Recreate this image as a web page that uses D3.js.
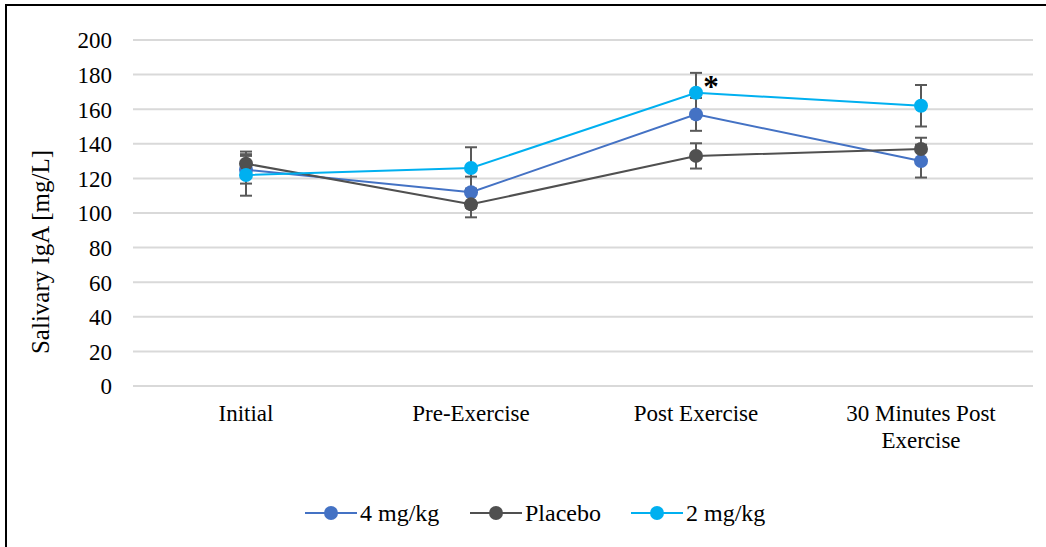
<!DOCTYPE html>
<html>
<head>
<meta charset="utf-8">
<script src="https://cdn.jsdelivr.net/npm/d3@7/dist/d3.min.js"></script>
<style>
  html, body { margin: 0; padding: 0; background: #fff; }
  svg { display: block; }
  svg text { font-family: "Liberation Serif", "Times New Roman", serif !important; fill: #000; }
</style>
</head>
<body>
<svg id="chart" width="1046" height="547"></svg>
<script>
// Sampling time points
const categories = ["Initial", "Pre-Exercise", "Post Exercise", "30 Minutes Post Exercise"];
const categoryLines = [["Initial"], ["Pre-Exercise"], ["Post Exercise"], ["30 Minutes Post", "Exercise"]];

// Mean salivary IgA (mg/L) and error-bar half widths for each group
const fourMg = [125, 112, 157, 130];
const fourMgErr = [8, 9, 9.5, 9.5];
const placebo = [128.5, 105, 133, 137];
const placeboErr = [7, 7.5, 7.3, 6.5];
const twoMg = [122, 126, 169.5, 162];
const twoMgErr = [12, 12, 11.5, 12];

const yTicks = [0, 20, 40, 60, 80, 100, 120, 140, 160, 180, 200];

const seriesNames = ["4 mg/kg", "Placebo", "2 mg/kg"];
const seriesColors = ["#4472C4", "#505050", "#00B0F0"];

const series = [
  { name: seriesNames[0], color: seriesColors[0], values: fourMg, err: fourMgErr },
  { name: seriesNames[1], color: seriesColors[1], values: placebo, err: placeboErr },
  { name: seriesNames[2], color: seriesColors[2], values: twoMg, err: twoMgErr }
];

const serif = "'Liberation Serif', 'Times New Roman', serif";
const svg = d3.select("#chart");

// Outer frame
svg.append("rect")
  .attr("x", 6).attr("y", 5)
  .attr("width", 1060).attr("height", 560)
  .attr("fill", "none").attr("stroke", "#000").attr("stroke-width", 2);

const x = d3.scaleBand().domain(categories).range([133.5, 1033.5]);
const y = d3.scaleLinear().domain([0, 200]).range([386, 40]);
const cx = c => x(c) + x.bandwidth() / 2;

// Horizontal gridlines
svg.append("g")
  .selectAll("line")
  .data(yTicks)
  .join("line")
  .attr("x1", 133).attr("x2", 1033)
  .attr("y1", d => y(d)).attr("y2", d => y(d))
  .attr("stroke", "#D9D9D9").attr("stroke-width", 2);

// Value axis labels
const yAxis = d3.axisLeft(y).tickValues(yTicks).tickSize(0).tickPadding(0);
const gy = svg.append("g").attr("transform", "translate(112,0)").call(yAxis);
gy.attr("font-family", null).attr("font-size", null);
gy.select(".domain").remove();
gy.selectAll("text")
  .style("font-family", serif)
  .style("font-size", "23px")
  .attr("fill", "#000")
  .attr("dy", "0.34em");

// Axis title
svg.append("text")
  .attr("transform", "translate(49,252) rotate(-90)")
  .attr("text-anchor", "middle")
  .style("font-family", serif)
  .style("font-size", "25px")
  .text("Salivary IgA [mg/L]");

// Category labels
const gx = svg.append("g");
categories.forEach((c, i) => {
  const t = gx.append("text")
    .attr("text-anchor", "middle")
    .style("font-family", serif)
    .style("font-size", "23px")
    .attr("x", cx(c))
    .attr("y", 421);
  categoryLines[i].forEach((ln, j) => {
    t.append("tspan").attr("x", cx(c)).attr("dy", j === 0 ? 0 : 27).text(ln);
  });
});

// Error bars
const errG = svg.append("g");
series.forEach(s => {
  categories.forEach((c, i) => {
    const xc = cx(c), lo = y(s.values[i] - s.err[i]), hi = y(s.values[i] + s.err[i]);
    errG.append("line").attr("x1", xc).attr("x2", xc).attr("y1", lo).attr("y2", hi)
      .attr("stroke", "#595959").attr("stroke-width", 2);
    [lo, hi].forEach(yy => errG.append("line")
      .attr("x1", xc - 6).attr("x2", xc + 6).attr("y1", yy).attr("y2", yy)
      .attr("stroke", "#595959").attr("stroke-width", 2));
  });
});

// Lines and markers
const line = d3.line().x((d, i) => cx(categories[i])).y(d => y(d));
series.forEach(s => {
  const g = svg.append("g");
  g.append("path").datum(s.values).attr("d", line)
    .attr("fill", "none").attr("stroke", s.color).attr("stroke-width", 2);
  g.selectAll("circle").data(s.values).join("circle")
    .attr("cx", (d, i) => cx(categories[i]))
    .attr("cy", d => y(d))
    .attr("r", 7)
    .attr("fill", s.color);
});

// Significance marker
svg.append("text")
  .attr("x", cx(categories[2]) + 15)
  .attr("y", y(twoMg[2]) + 4)
  .attr("text-anchor", "middle")
  .style("font-family", serif)
  .style("font-size", "31px")
  .style("font-weight", "bold")
  .text("*");

// Legend
const legendX = [305, 470, 631];
const legend = svg.append("g");
series.forEach((s, i) => {
  const lx = legendX[i], ly = 513;
  legend.append("line").attr("x1", lx).attr("x2", lx + 52).attr("y1", ly).attr("y2", ly)
    .attr("stroke", s.color).attr("stroke-width", 2);
  legend.append("circle").attr("cx", lx + 26).attr("cy", ly).attr("r", 7).attr("fill", s.color);
  legend.append("text").attr("x", lx + 55).attr("y", ly + 8)
    .style("font-family", serif)
    .style("font-size", "24px").text(s.name);
});
</script>
</body>
</html>
